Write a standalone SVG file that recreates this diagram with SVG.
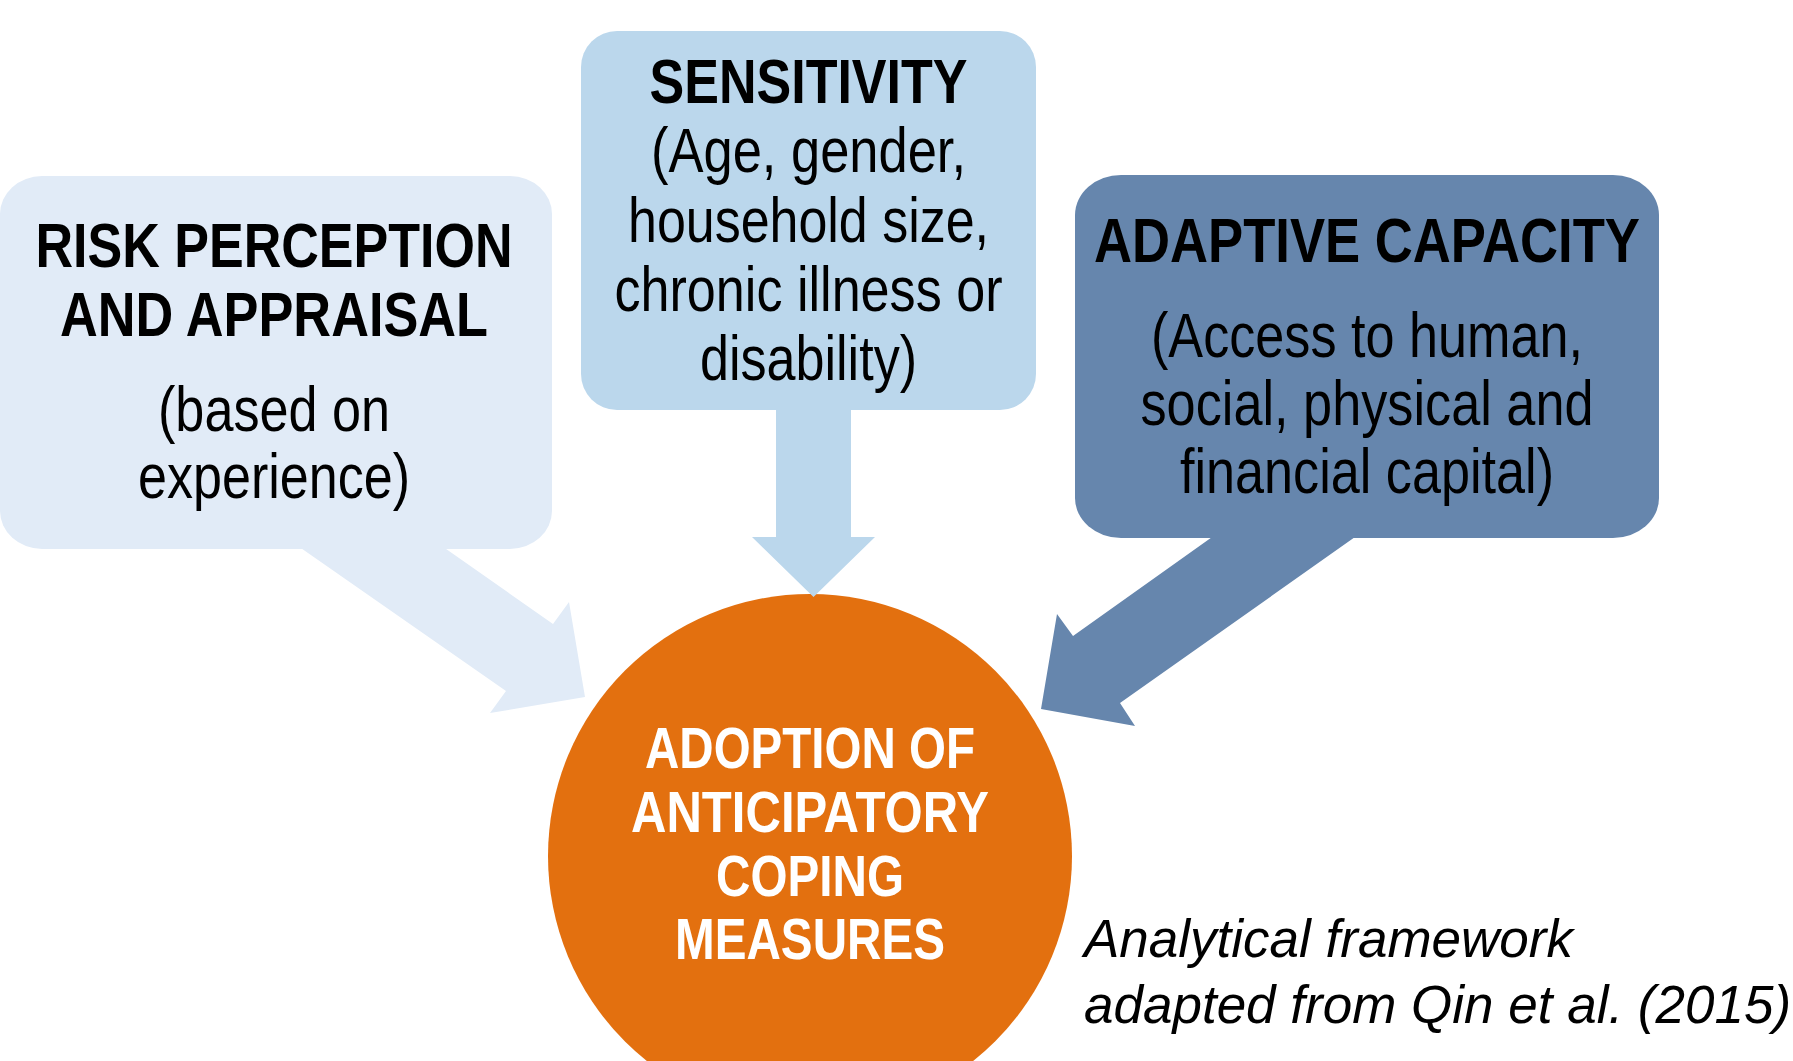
<svg xmlns="http://www.w3.org/2000/svg" width="1793" height="1061" viewBox="0 0 1793 1061">
  <style>
    /* narrow sans: Liberation Sans squeezed to Arial Narrow widths via textLength */
    .head { font-family: "Liberation Sans", Arial, sans-serif; font-weight: bold; font-size: 63.5px; text-anchor: middle; fill: #000000; }
    .body { font-family: "Liberation Sans", Arial, sans-serif; font-size: 63.5px; text-anchor: middle; fill: #000000; }
    .core { font-family: "Liberation Sans", Arial, sans-serif; font-weight: bold; font-size: 58px; text-anchor: middle; fill: #ffffff; }
    .note { font-family: "Liberation Sans", Arial, sans-serif; font-style: italic; font-size: 53px; fill: #000000; }
    .risk { fill: #E1EBF7; }
    .sens { fill: #BBD7EC; }
    .adap { fill: #6686AD; }
    .outcome { fill: #E3700F; }
  </style>

  <rect width="1793" height="1061" fill="#ffffff"/>

  <!-- central outcome -->
  <g id="outcome">
    <circle class="outcome" cx="810" cy="856" r="262"/>
    <text class="core" x="810" y="768" textLength="330" lengthAdjust="spacingAndGlyphs">ADOPTION OF</text>
    <text class="core" x="810" y="832" textLength="358" lengthAdjust="spacingAndGlyphs">ANTICIPATORY</text>
    <text class="core" x="810" y="896" textLength="188" lengthAdjust="spacingAndGlyphs">COPING</text>
    <text class="core" x="810" y="959" textLength="270" lengthAdjust="spacingAndGlyphs">MEASURES</text>
  </g>

  <!-- block arrows from each factor into the outcome -->
  <g id="connectors">
    <polygon class="risk" points="275,530 506,691 490,713 585,697 569,602 553,624 419,530"/>
    <polygon class="sens" points="776,400 776,537 752,537 813.5,597 875,537 851,537 851,400"/>
    <polygon class="adap" points="1229,525 1073,636 1057,614 1041,709 1135,726 1120,703 1372,525"/>
  </g>

  <g id="risk-perception">
    <rect class="risk" x="0" y="176" width="552" height="373" rx="42" ry="38"/>
    <text class="head" x="274" y="267" textLength="477" lengthAdjust="spacingAndGlyphs">RISK PERCEPTION</text>
    <text class="head" x="274" y="336" textLength="428" lengthAdjust="spacingAndGlyphs">AND APPRAISAL</text>
    <text class="body" x="274" y="431" textLength="232" lengthAdjust="spacingAndGlyphs">(based on</text>
    <text class="body" x="274" y="498" textLength="272" lengthAdjust="spacingAndGlyphs">experience)</text>
  </g>

  <g id="sensitivity">
    <rect class="sens" x="581" y="31" width="455" height="379" rx="36" ry="36"/>
    <text class="head" x="808.5" y="103" textLength="318" lengthAdjust="spacingAndGlyphs">SENSITIVITY</text>
    <text class="body" x="808.5" y="172" textLength="315" lengthAdjust="spacingAndGlyphs">(Age, gender,</text>
    <text class="body" x="808.5" y="242" textLength="361" lengthAdjust="spacingAndGlyphs">household size,</text>
    <text class="body" x="808.5" y="311" textLength="388" lengthAdjust="spacingAndGlyphs">chronic illness or</text>
    <text class="body" x="808.5" y="380" textLength="217" lengthAdjust="spacingAndGlyphs">disability)</text>
  </g>

  <g id="adaptive-capacity">
    <rect class="adap" x="1075" y="175" width="584" height="363" rx="46" ry="40"/>
    <text class="head" x="1367" y="262" textLength="546" lengthAdjust="spacingAndGlyphs">ADAPTIVE CAPACITY</text>
    <text class="body" x="1367" y="357" textLength="432" lengthAdjust="spacingAndGlyphs">(Access to human,</text>
    <text class="body" x="1367" y="425" textLength="453" lengthAdjust="spacingAndGlyphs">social, physical and</text>
    <text class="body" x="1367" y="493" textLength="374" lengthAdjust="spacingAndGlyphs">financial capital)</text>
  </g>

  <g id="source-note">
    <text class="note" x="1084" y="957">Analytical framework</text>
    <text class="note" x="1084" y="1023">adapted from Qin et al. (2015)</text>
  </g>
</svg>
